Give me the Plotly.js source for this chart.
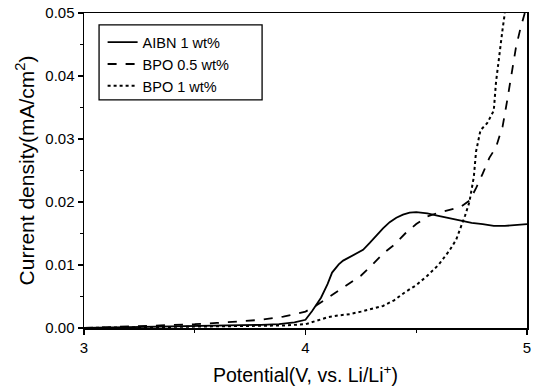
<!DOCTYPE html>
<html><head><meta charset="utf-8">
<script src="https://cdn.plot.ly/plotly-3.0.1.min.js"></script>
<style>html,body{margin:0;padding:0;background:#fff}#c{width:540px;height:392px}</style>
</head><body><div id="c"></div>
<script>
const seriesNames = ["AIBN 1 wt%", "BPO 0.5 wt%", "BPO 1 wt%"];
const aibnX = [3.0,3.2,3.4,3.6,3.8,3.88,3.95,4.0,4.03,4.07,4.1,4.12,4.15,4.17,4.2,4.23,4.26,4.29,4.32,4.35,4.38,4.41,4.44,4.47,4.5,4.55,4.6,4.65,4.7,4.75,4.8,4.85,4.9,4.95,5.0];
const aibnY = [0,0.0001,0.0002,0.0003,0.0005,0.0006,0.0009,0.0013,0.0027,0.0048,0.0070,0.0088,0.0101,0.0107,0.0113,0.0118,0.0124,0.0135,0.0147,0.0158,0.0168,0.0175,0.0180,0.0183,0.0184,0.0182,0.0178,0.0174,0.0170,0.0167,0.0165,0.0162,0.0162,0.0164,0.0165];
const bpo05X = [3.0,3.2,3.4,3.5,3.6,3.7,3.8,3.9,3.95,4.0,4.05,4.1,4.15,4.2,4.25,4.3,4.35,4.4,4.45,4.5,4.55,4.6,4.65,4.7,4.74,4.77,4.8,4.83,4.86,4.89,4.91,4.93,4.95,4.97,4.99];
const bpo05Y = [0,0.0002,0.0004,0.0006,0.0008,0.0011,0.0013,0.0018,0.0022,0.0026,0.0036,0.0048,0.0060,0.0071,0.0083,0.0100,0.0118,0.0132,0.0150,0.0165,0.0177,0.0183,0.0187,0.0192,0.0202,0.0222,0.0245,0.027,0.0287,0.032,0.036,0.040,0.0445,0.0475,0.050];
const bpo1X = [3.0,3.2,3.4,3.6,3.8,3.9,4.0,4.05,4.1,4.15,4.2,4.25,4.3,4.35,4.4,4.45,4.5,4.55,4.6,4.65,4.68,4.7,4.72,4.74,4.76,4.77,4.79,4.82,4.85,4.86,4.87,4.88,4.89,4.9];
const bpo1Y = [0,0.0001,0.0002,0.0002,0.0003,0.0004,0.0006,0.0012,0.0017,0.0020,0.0022,0.0026,0.0030,0.0035,0.0044,0.0057,0.0068,0.0083,0.0100,0.0123,0.0140,0.0158,0.0178,0.0200,0.0240,0.0280,0.0314,0.0325,0.0345,0.0390,0.0420,0.0450,0.0475,0.0500];

const FONT = "Arial, 'Liberation Sans', sans-serif";
const traces = [
  {x: aibnX, y: aibnY, name: seriesNames[0], mode: "lines", line: {color: "#000", width: 1.8, dash: "solid"}},
  {x: bpo05X, y: bpo05Y, name: seriesNames[1], mode: "lines", line: {color: "#000", width: 1.8, dash: "dash"}},
  {x: bpo1X, y: bpo1Y, name: seriesNames[2], mode: "lines", line: {color: "#000", width: 2, dash: "dot"}}
];
const axisCommon = {
  showline: true, linecolor: "#000", linewidth: 1.5, mirror: true,
  ticks: "outside", ticklen: 5, tickcolor: "#000", tickwidth: 1.3,
  showgrid: false, zeroline: false, automargin: false,
  tickfont: {family: FONT, size: 15, color: "#000"}
};
const layout = {
  width: 540, height: 392,
  margin: {l: 84, r: 13, t: 13, b: 64},
  paper_bgcolor: "#fff", plot_bgcolor: "#fff",
  font: {family: FONT, color: "#000"},
  showlegend: true,
  legend: {x: 0.042, y: 0.958, xanchor: "left", yanchor: "top",
    borderwidth: 0, bgcolor: "rgba(0,0,0,0)",
    font: {family: FONT, size: 14.5, color: "#000"}, tracegroupgap: 0},
  shapes: [{type: "rect", xref: "paper", yref: "paper", x0: 0.034, x1: 0.402, y0: 0.724, y1: 0.962,
    line: {color: "#000", width: 1.3}, fillcolor: "#fff", layer: "above"}],
  xaxis: Object.assign({}, axisCommon, {
    range: [3, 5], tickvals: [3, 4, 5], ticktext: ["3", "4", "5"],
    minor: {dtick: 0.5, ticks: "outside", ticklen: 3, tickcolor: "#000", tickwidth: 1.2},
    title: {text: "Potential(V, vs. Li/Li<sup>+</sup>)", font: {family: FONT, size: 19.5, color: "#000"}, standoff: 14}
  }),
  yaxis: Object.assign({}, axisCommon, {
    range: [0, 0.05], dtick: 0.01, tickformat: ".2f",
    minor: {dtick: 0.005, ticks: "outside", ticklen: 3, tickcolor: "#000", tickwidth: 1.2},
    title: {text: "Current density(mA/cm<sup>2</sup>)", font: {family: FONT, size: 21, color: "#000"}, standoff: 5}
  })
};
Plotly.newPlot("c", traces, layout, {staticPlot: true, displayModeBar: false});
</script></body></html>
